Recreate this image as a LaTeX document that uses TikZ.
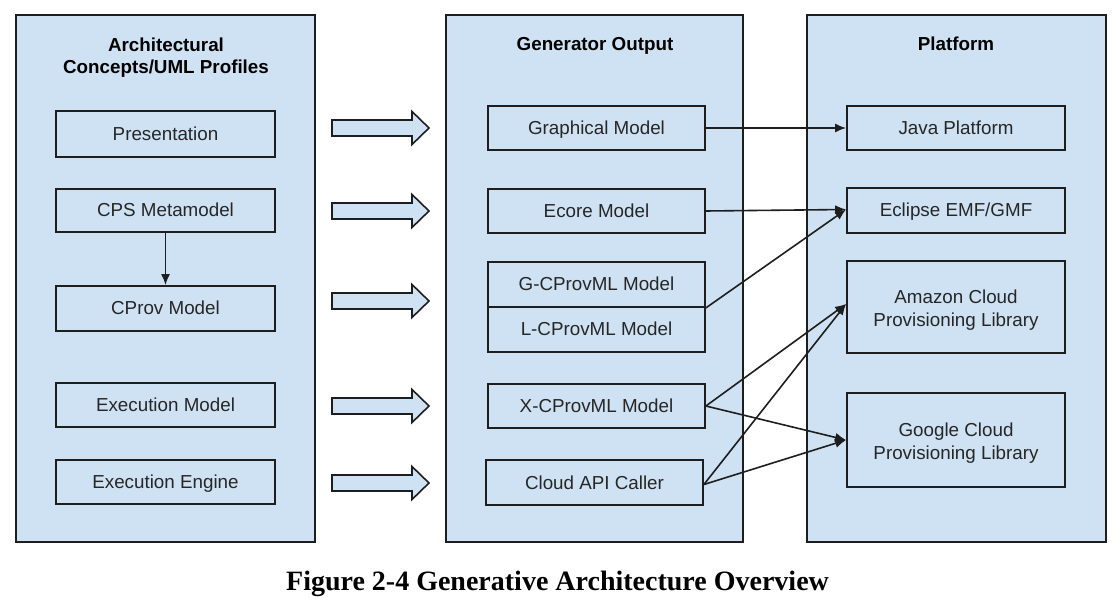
\documentclass[tikz,border=0pt]{standalone}
\usepackage{fontspec}
\setmainfont{Liberation Sans}
\newfontfamily\capfont{Liberation Serif}
\usetikzlibrary{arrows.meta}
\definecolor{panelfill}{HTML}{CFE2F3}
\definecolor{edge}{HTML}{1E1E1E}
\definecolor{txt}{HTML}{262626}
\begin{document}
\begin{tikzpicture}[x=1pt,y=-1pt,
  panel/.style={draw=edge,fill=panelfill,line width=1.8pt,inner sep=0pt},
  box/.style={draw=edge,fill=panelfill,line width=1.8pt,inner sep=0pt,text=txt,
    font=\fontsize{18.8}{23.5}\selectfont,align=center},
  one/.style={text height=17pt,text depth=4pt},
  two/.style={yshift=-3.5pt},
  ttl/.style={text=black,font=\bfseries\fontsize{18.8}{22.5}\selectfont,align=center,inner sep=0pt},
  conn/.style={draw=edge,line width=1.6pt,-{Latex[length=11pt,width=9pt]}},
  blockarr/.style={draw=edge,fill=panelfill,line width=1.6pt,line join=miter}]
\useasboundingbox (0,0) rectangle (1119,609);
% panels
\node[panel,minimum width=299pt,minimum height=527pt] (p1) at (165.5,278.5) {};
\node[panel,minimum width=297pt,minimum height=527pt] (p2) at (594.5,278.5) {};
\node[panel,minimum width=299pt,minimum height=527pt] (p3) at (956.5,278.5) {};
% titles
\node[ttl] (t1) at (166,57.5) {Architectural\\Concepts/UML Profiles};
\node[ttl,anchor=base] (t2) at (595,51) {Generator Output};
\node[ttl,anchor=base] (t3) at (956,51) {Platform};
% left boxes
\node[box,one,minimum width=219pt,minimum height=46pt] (pres) at (165.5,134) {Presentation};
\node[box,one,minimum width=219pt,minimum height=43pt] (cps) at (165.5,210.5) {CPS Metamodel};
\node[box,one,minimum width=219pt,minimum height=45pt] (cprov) at (165.5,308.5) {CProv Model};
\node[box,one,minimum width=219pt,minimum height=44pt] (exm) at (165.5,405) {Execution Model};
\node[box,one,minimum width=219pt,minimum height=44pt] (exe) at (165.5,482) {Execution Engine};
% middle boxes
\node[box,one,minimum width=217pt,minimum height=44pt] (gm) at (596.5,128) {Graphical Model};
\node[box,one,minimum width=217pt,minimum height=44pt] (ecore) at (596.5,211) {Ecore Model};
\node[box,one,minimum width=217pt,minimum height=45pt] (gc) at (596.5,284.5) {G-CProvML Model};
\node[box,one,minimum width=217pt,minimum height=45pt] (lc) at (596.5,329.5) {L-CProvML Model};
\node[box,one,minimum width=217pt,minimum height=44pt] (xc) at (596.5,406) {X-CProvML Model};
\node[box,one,minimum width=217pt,minimum height=45pt] (api) at (594.5,482.5) {Cloud API Caller};
% right boxes
\node[box,one,minimum width=218pt,minimum height=44pt] (java) at (956,128) {Java Platform};
\node[box,one,minimum width=218pt,minimum height=45pt] (emf) at (956,210.5) {Eclipse EMF/GMF};
\node[box,minimum width=218pt,minimum height=92pt] (aws) at (956,307) {};
\node[box,minimum width=218pt,minimum height=94pt] (gcp) at (956,440) {};
\node[text=txt,font=\fontsize{18.8}{23.5}\selectfont,align=center,inner sep=0pt] (awst) at (956,310) {Amazon Cloud\\Provisioning Library};
\node[text=txt,font=\fontsize{18.8}{23.5}\selectfont,align=center,inner sep=0pt] (gcpt) at (956,443) {Google Cloud\\Provisioning Library};
% block arrows
\foreach \yy in {128,211,301,406,483}{
  \draw[blockarr] (332,\yy-8) -- (412,\yy-8) -- (412,\yy-16.5) -- (429,\yy)
    -- (412,\yy+16.5) -- (412,\yy+8) -- (332,\yy+8) -- cycle;
}
% connectors
\draw[conn] (cps.south) -- (cprov.north);
\draw[conn] (gm.east) -- (java.west);
\coordinate (emfin) at ([yshift=1pt]emf.west);
\draw[conn] (ecore.east) -- (emfin);
\draw[conn] (gc.south east) -- (emfin);
\coordinate (awsin) at ([yshift=3pt]aws.west);
\draw[conn] (xc.east) -- (awsin);
\draw[conn] ([yshift=-2pt]api.east) -- (awsin);
\draw[conn] (xc.east) -- (gcp.west);
\draw[conn] ([yshift=-2pt]api.east) -- (gcp.west);
% caption
\node[font=\capfont\bfseries\fontsize{28}{32}\selectfont,inner sep=0pt,anchor=base] (cap) at (557.5,590) {Figure 2-4 Generative Architecture Overview};
\end{tikzpicture}
\end{document}
